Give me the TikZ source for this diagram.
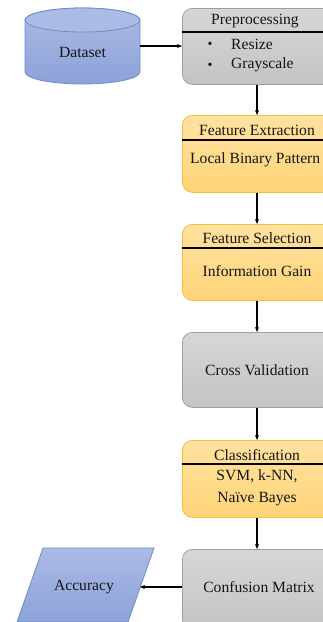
\documentclass[tikz,border=0pt]{standalone}
\usepackage{fontspec}
\setmainfont{Liberation Serif}
\usetikzlibrary{arrows.meta,positioning}
\definecolor{grayT}{RGB}{214,214,214}
\definecolor{grayB}{RGB}{196,196,196}
\definecolor{grayD}{RGB}{160,160,160}
\definecolor{orT}{RGB}{255,226,160}
\definecolor{orB}{RGB}{255,212,120}
\definecolor{orD}{RGB}{245,190,60}
\definecolor{blT}{RGB}{172,186,230}
\definecolor{blB}{RGB}{140,162,216}
\definecolor{blD}{RGB}{108,142,200}
\tikzset{
  graybox/.style={draw=grayD, line width=0.8pt, top color=grayT, bottom color=grayB, rounded corners=10pt, minimum width=150pt, anchor=north west, inner sep=0pt},
  orbox/.style={draw=orD, line width=0.8pt, top color=orT, bottom color=orB, rounded corners=10pt, minimum width=150pt, anchor=north west, inner sep=0pt},
  lbl/.style={font=\fontsize{15.6}{18}\selectfont, inner sep=0pt, text=black!92},
  hline/.style={line width=1.1pt, black},
  conn/.style={line width=1.1pt, -{Stealth[length=5pt,width=4pt]}}
}
\begin{document}
\begin{tikzpicture}[x=1pt,y=-1pt]
\useasboundingbox (0,0) rectangle (323,622);
\begin{scope}
\clip (0,0) rectangle (323,622);
% Dataset cylinder
\path[draw=blD, line width=0.8pt, top color=blT, bottom color=blB]
  (25,20) -- (25,72) arc[start angle=180, end angle=360, x radius=57.5pt, y radius=12pt] -- (140,20) arc[start angle=0, end angle=180, x radius=57.5pt, y radius=12pt] -- cycle;
\draw[blD, line width=0.8pt, fill=blT] (82.5,20) ellipse[x radius=57.5pt, y radius=12pt];
\node[lbl] (dataset) at (82.5,52) {Dataset};
\coordinate (dsr) at (140,46);

% Accuracy parallelogram
\path[draw=blD, line width=0.8pt, top color=blT, bottom color=blB]
  (43,548) -- (154,548) -- (128,622) -- (17,622) -- cycle;
\node[lbl] (acc) at (84,587) {Accuracy};
\coordinate (accr) at (140,587);

% Boxes
\node[graybox, minimum height=76pt] (pre) at (182,8) {};
\node[orbox, minimum height=77pt] (fe) at (182,115) {};
\node[orbox, minimum height=76pt] (fs) at (182,224) {};
\node[graybox, minimum height=75pt] (cv) at (182,332) {};
\node[orbox, minimum height=77pt] (cl) at (182,440) {};
\node[graybox, minimum height=80pt] (cm) at (182,549) {};

% header lines
\draw[hline] ([yshift=-24pt]pre.north west) -- ([yshift=-24pt]pre.north east);
\draw[hline] ([yshift=-25pt]fe.north west) -- ([yshift=-25pt]fe.north east);
\draw[hline] ([yshift=-24pt]fs.north west) -- ([yshift=-24pt]fs.north east);
\draw[hline] ([yshift=-24pt]cl.north west) -- ([yshift=-24pt]cl.north east);

% texts
\node[lbl] (preT) at (255,21) {Preprocessing};
\node[lbl, font=\fontsize{14}{16}\selectfont] (b1) at (210,45) {•};
\node[lbl, font=\fontsize{14}{16}\selectfont] (b2) at (210,66) {•};
\node[lbl, anchor=west] (r1) at (231,44) {Resize};
\node[lbl, anchor=west] (r2) at (231,65) {Grayscale};
\node[lbl] (feT) at (257,130) {Feature Extraction};
\node[lbl, anchor=west] (feB) at (190,160) {Local Binary Pattern};
\node[lbl] (fsT) at (257,238) {Feature Selection};
\node[lbl] (fsB) at (257,271) {Information Gain};
\node[lbl] (cvT) at (257,370) {Cross Validation};
\node[lbl] (clT) at (257,455) {Classification};
\node[lbl, align=center, font=\fontsize{15.6}{22}\selectfont] (clB) at (257,488) {SVM, k-NN,\\Naïve Bayes};
\node[lbl] (cmT) at (259,587) {Confusion Matrix};
\end{scope}

% connectors
\draw[conn] (dsr) -- (pre.west |- dsr);
\draw[conn] (pre.south -| 257,0) -- (fe.north -| 257,0);
\draw[conn] (fe.south -| 257,0) -- (fs.north -| 257,0);
\draw[conn] (fs.south -| 257,0) -- (cv.north -| 257,0);
\draw[conn] (cv.south -| 257,0) -- (cl.north -| 257,0);
\draw[conn] (cl.south -| 257,0) -- (cm.north -| 257,0);
\draw[conn] (cm.west |- accr) -- (accr);
\end{tikzpicture}
\end{document}
